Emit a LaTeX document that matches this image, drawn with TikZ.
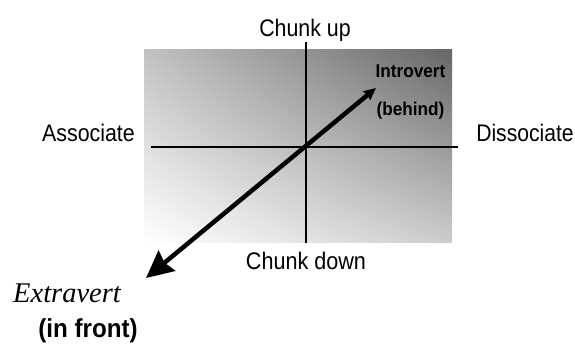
\documentclass[tikz,border=0pt]{standalone}
\usepackage{fontspec}
\usepackage{graphicx}
\setmainfont{Liberation Sans}
\newfontfamily\serifit{Liberation Serif}
\usetikzlibrary{arrows.meta,shadings}
\definecolor{gUL}{gray}{0.76}
\definecolor{gUR}{gray}{0.40}
\definecolor{gLL}{gray}{1.00}
\definecolor{gLR}{gray}{0.80}
\tikzset{
  axislabel/.style={inner sep=0pt, anchor=base, font=\fontsize{24}{24}\selectfont},
  smalllabel/.style={inner sep=0pt, anchor=base, font=\fontsize{18.5}{18.5}\selectfont\bfseries},
  axisline/.style={line width=2pt, black},
  bigarrow/.style={line width=4.5pt, black, {Stealth[length=27pt,width=26pt,inset=3pt]}-{Stealth[length=12pt,width=11pt,inset=1pt]}}
}
\begin{document}
\begin{tikzpicture}[x=1pt,y=-1pt]
\useasboundingbox (0,0) rectangle (575,349);
% shaded field
\shade[upper left=gUL, upper right=gUR, lower left=gLL, lower right=gLR] (144,49) rectangle (452,242);
% axes
\coordinate (hL) at (151,147);
\coordinate (hR) at (458,147);
\coordinate (vT) at (306,42);
\coordinate (vB) at (306,243);
\draw[axisline] (hL) -- (hR);
\draw[axisline] (vT) -- (vB);
% diagonal arrow
\coordinate (frontpt) at (146,278);
\coordinate (behindpt) at (376,88);
\draw[bigarrow] (frontpt) -- (behindpt);
% labels
\node[axislabel] (up) at (305,36) {\scalebox{0.89}[1]{Chunk up}};
\node[axislabel] (down) at (306,269) {\scalebox{0.9}[1]{Chunk down}};
\node[axislabel] (assoc) at (88.5,141) {\scalebox{0.89}[1]{Associate}};
\node[axislabel] (dissoc) at (525,141) {\scalebox{0.88}[1]{Dissociate}};
\node[smalllabel] (intro) at (410.5,77) {\scalebox{0.93}[1]{Introvert}};
\node[smalllabel] (beh) at (410.5,115) {\scalebox{0.93}[1]{(behind)}};
\node[inner sep=0pt, anchor=base west, font=\fontsize{28.5}{28.5}\selectfont\serifit\itshape] (extra) at (13,302) {Extravert};
\node[inner sep=0pt, anchor=base, font=\fontsize{26}{26}\selectfont\bfseries] (frontlbl) at (88,337) {\scalebox{0.93}[1]{(in front)}};
\end{tikzpicture}
\end{document}
